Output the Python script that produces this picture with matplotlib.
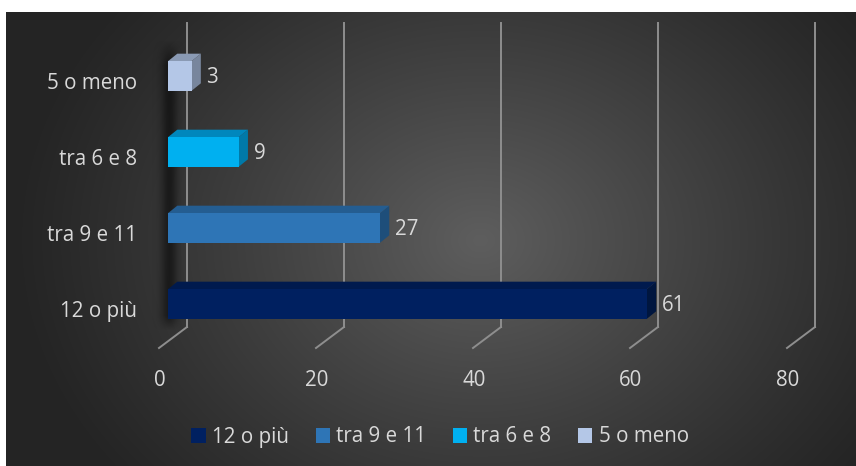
import numpy as np
import matplotlib
matplotlib.use("Agg")
import matplotlib.pyplot as plt
from matplotlib.patches import Polygon, Patch
from matplotlib.lines import Line2D
from matplotlib.transforms import IdentityTransform

# ---- data ----
categories = ["12 o più", "tra 9 e 11", "tra 6 e 8", "5 o meno"]
values = [61, 27, 9, 3]
x_ticks = [0, 20, 40, 60, 80]

# ---- styling ----
front_colors = ["#002060", "#2E75B6", "#00B0F0", "#B4C7E7"]
top_colors = ["#001A4E", "#245D91", "#0087BD", "#8A9AB4"]
side_colors = ["#00163F", "#1E4E7A", "#0079A8", "#78869D"]
TEXT = "#D9D9D9"
GRID = "#8E8E8E"
FONT = "Open Sans"
FS = 14.8

W, H, DPI = 856, 466, 100
fig = plt.figure(figsize=(W / DPI, H / DPI), dpi=DPI, facecolor="white")

# ---- radial background ----
bg = fig.add_axes([6 / W, 0, (W - 6) / W, (H - 12) / H])
yy, xx = np.mgrid[12:466, 6:856]
d = np.sqrt(((xx - 480) / 470.0) ** 2 + ((yy - 240) / 380.0) ** 2)
shade = 36 + 58 * np.clip(1 - d, 0, 1) ** 1.1
shade = shade / 255.0
img = np.dstack([shade, shade, shade])
bg.imshow(img, extent=(6, 856, 466, 12), aspect="auto", interpolation="bilinear")
bg.set_xlim(6, 856)
bg.set_ylim(466, 12)
bg.axis("off")

# soft shadow on the side wall, left of the bars
sy, sx = np.mgrid[12:466, 6:856]
band = np.exp(-((sx - 169) / 8.0) ** 2)
vert = np.clip((sy - 40) / 25.0, 0, 1) * np.clip((330 - sy) / 15.0, 0, 1)
alpha = 0.5 * band * vert
shadow = np.zeros((sy.shape[0], sy.shape[1], 4))
shadow[..., 3] = alpha
bg.imshow(shadow, extent=(6, 856, 466, 12), aspect="auto", interpolation="bilinear")

# ---- plot axes: front plane of the 3D chart ----
ax = fig.add_axes([168 / W, (H - 342) / H, 628 / W, 304 / H])
ax.set_xlim(0, 80)
ax.set_ylim(-0.5, 3.5)
ax.axis("off")

ident = IdentityTransform()


def disp(x, y):
    return ax.transData.transform((x, y))


# back-wall gridlines and floor diagonals
wall_top = H - 23
wall_bot = H - 327
floor_front = H - 348
for t in x_ticks:
    fx = disp(t, 0)[0]
    ax.add_line(Line2D([fx + 19, fx + 19], [wall_bot, wall_top], color=GRID,
                       lw=1.4, transform=ident, clip_on=False))
    ax.add_line(Line2D([fx + 19, fx - 9], [wall_bot, floor_front], color=GRID,
                       lw=1.4, transform=ident, clip_on=False))
    ax.annotate(str(t), xy=(t, -0.5), xytext=(-8, -39), textcoords="offset pixels",
                ha="center", va="center", color=TEXT, fontsize=FS, family=FONT,
                annotation_clip=False)

# 3D bars
BAR_H = 0.39
DX, DY = 9.3, 7.5
for i, (cat, v) in enumerate(zip(categories, values)):
    y0, y1 = i - BAR_H / 2, i + BAR_H / 2
    x0b, y0b = disp(0, y0)
    x1t, y1t = disp(v, y1)
    front = [(x0b, y0b), (x1t, y0b), (x1t, y1t), (x0b, y1t)]
    top = [(x0b, y1t), (x1t, y1t), (x1t + DX, y1t + DY), (x0b + DX, y1t + DY)]
    side = [(x1t, y0b), (x1t + DX, y0b + DY), (x1t + DX, y1t + DY), (x1t, y1t)]
    ax.add_patch(Polygon(side, closed=True, facecolor=side_colors[i], edgecolor="none",
                         transform=ident, clip_on=False, zorder=3))
    ax.add_patch(Polygon(top, closed=True, facecolor=top_colors[i], edgecolor="none",
                         transform=ident, clip_on=False, zorder=3))
    ax.add_patch(Polygon(front, closed=True, facecolor=front_colors[i], edgecolor="none",
                         transform=ident, clip_on=False, zorder=4))
    ax.annotate(str(v), xy=(v, i), xytext=(15, -1.5), textcoords="offset pixels",
                ha="left", va="center", color=TEXT, fontsize=FS, family=FONT,
                annotation_clip=False)
    ax.annotate(cat, xy=(0, i), xytext=(-31, -7.5), textcoords="offset pixels",
                ha="right", va="center", color=TEXT, fontsize=FS, family=FONT,
                annotation_clip=False)

# legend
handles = [Patch(facecolor=c, edgecolor="none", label=l)
           for c, l in zip(front_colors, categories)]
fig.legend(handles=handles, loc="center", bbox_to_anchor=(440 / W, (H - 437) / H),
           ncol=4, frameon=False, handlelength=0.7, handleheight=0.7,
           handletextpad=0.3, columnspacing=1.3, borderpad=0,
           prop={"family": FONT, "size": FS}, labelcolor=TEXT)

fig.savefig("out.png", dpi=DPI, facecolor="white")
